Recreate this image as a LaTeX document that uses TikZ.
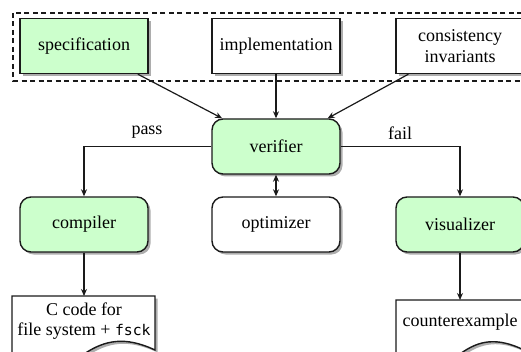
\documentclass[tikz,border=0pt]{standalone}
\usepackage{fontspec}
\setmainfont{Liberation Serif}
\newfontfamily\codefont{DejaVu Sans Mono}[Scale=0.82]
\usetikzlibrary{shadows,arrows.meta}
\definecolor{boxgreen}{HTML}{CCFFCC}
\definecolor{edge}{HTML}{1A1A1A}
\begin{document}
\begin{tikzpicture}[x=1pt,y=-1pt,
  font=\fontsize{18}{20.5}\selectfont,
  shadowed/.style={drop shadow={shadow xshift=2.5pt, shadow yshift=-2.5pt, fill=black!32, opacity=1}},
  box/.style={draw=edge, line width=1.4pt, minimum width=128pt, minimum height=55pt,
              inner sep=2pt, align=center, shadowed},
  proc/.style={box, rounded corners=11pt},
  hl/.style={fill=boxgreen},
  plain/.style={fill=white},
  doctext/.style={align=center, inner sep=0pt, anchor=north},
  docline/.style={draw=edge, line width=1.4pt, fill=white, shadowed},
  link/.style={draw=edge, line width=1.2pt, -{Stealth[length=7pt,width=6pt]}},
  twoway/.style={draw=edge, line width=1.2pt, {Stealth[length=7pt,width=6pt]}-{Stealth[length=7pt,width=6pt]}},
  group/.style={draw=edge, line width=1.2pt, dash pattern=on 5pt off 3.5pt},
]
\useasboundingbox (0,0) rectangle (521,352);
\clip (0,0) rectangle (521,352);

% inputs to the verifier
\draw[group] (13,13) rectangle (531,81);
\node[box, hl]    (spec) at (84,46)  {specification};
\node[box, plain] (impl) at (276,46) {implementation};
\node[box, plain] (cons) at (460,46) {consistency\\invariants};

% tool chain
\node[proc, hl]    (verif) at (276,146.5) {verifier};
\node[proc, hl]    (comp)  at (84,224.5)  {compiler};
\node[proc, plain] (opt)   at (276,224.5) {optimizer};
\node[proc, hl]    (vis)   at (460,224.5) {visualizer};

% output documents
\draw[docline] (12,296) -- (155,296) -- (155,350)
  .. controls (125,336) and (105,340) .. (84,354)
  .. controls (60,370) and (30,368) .. (12,358) -- cycle;
\node[doctext, minimum width=143pt, minimum height=50pt] (doc1) at (84,296)
  {C code for\\file system + {\codefont fsck}};

\draw[docline] (396,300) -- (524,300) -- (524,350)
  .. controls (497,337) and (479,340) .. (460,354)
  .. controls (439,369) and (412,367) .. (396,358) -- cycle;
\node[doctext, minimum width=128pt, minimum height=44pt] (doc2) at (460,300)
  {counterexample};

% connectors
\draw[link] (spec) -- (verif);
\draw[link] (impl) -- (verif);
\draw[link] (cons) -- (verif);
\draw[link] (verif.west) -| (comp.north);
\draw[link] (verif.east) -| (vis.north);
\draw[twoway] (verif.south) -- (opt.north);
\draw[link] (comp.south) -- (doc1.north);
\draw[link] (vis.south) -- (doc2.north);

% branch labels
\node[anchor=base] (passlbl) at (147,135) {pass};
\node[anchor=base] (faillbl) at (400,140) {fail};
\end{tikzpicture}
\end{document}
